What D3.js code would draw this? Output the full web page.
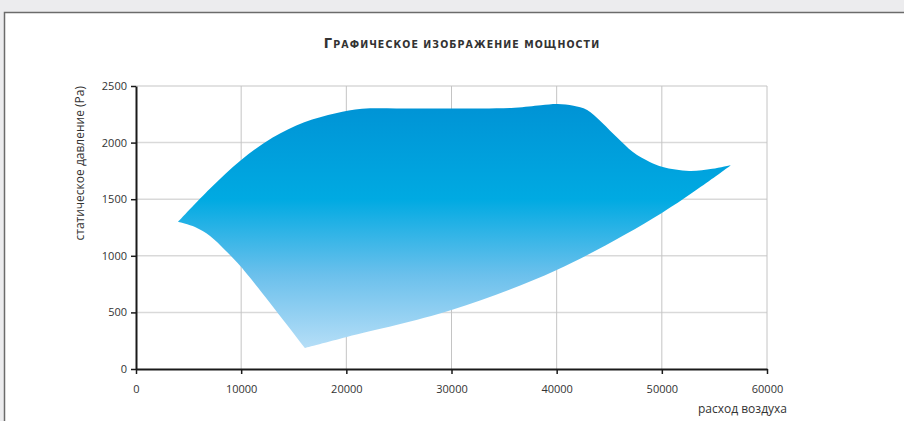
<!DOCTYPE html>
<html>
<head>
<meta charset="utf-8">
<script src="https://cdn.jsdelivr.net/npm/d3@7"></script>
<style>
  body { margin: 0; background: #ececee; }
  svg { display: block; }
</style>
</head>
<body>
<div id="chart"></div>
<script>
// tick values
var xTicks = [0, 10000, 20000, 30000, 40000, 50000, 60000];
var yTicks = [0, 500, 1000, 1500, 2000, 2500];

// upper boundary of the working area (left to right)
var upperFlow = [4000, 7000, 10000, 13000, 16000, 19000, 21500, 25000, 30000, 36000, 38500, 40100, 41600, 42900, 45700, 47250, 48850, 50100, 52600, 54800, 56600];
var upperPressure = [1300, 1590, 1846, 2045, 2180, 2260, 2298, 2302, 2302, 2308, 2330, 2340, 2326, 2288, 2050, 1917, 1829, 1784, 1749, 1768, 1802];

// lower boundary, right part (from the right corner down to the bottom corner)
var lowerFlow = [56600, 50000, 40000, 30000, 20050, 16060];
var lowerPressure = [1802, 1378, 875, 521, 283, 186];

// lower boundary, left part (from the bottom corner back to the start)
var leftFlow = [16060, 10000, 8460, 7040, 5610, 4000];
var leftPressure = [186, 901, 1051, 1175, 1254, 1300];

var W = 904, H = 421;
var margin = {top: 86, left: 136, right: 137, bottom: 52};
var width = W - margin.left - margin.right,
    height = H - margin.top - margin.bottom;

var svg = d3.select("#chart").append("svg")
    .attr("width", W)
    .attr("height", H);

// white panel
svg.append("rect")
    .attr("x", 4.5).attr("y", 12.5)
    .attr("width", W + 10).attr("height", H + 10)
    .attr("fill", "#fff")
    .attr("stroke", "#6b6b6b")
    .attr("stroke-width", 1.5);

var x = d3.scaleLinear().domain([0, 60000]).range([margin.left, margin.left + width]);
var y = d3.scaleLinear().domain([0, 2500]).range([margin.top + height, margin.top]);

// gradient
var defs = svg.append("defs");
var grad = defs.append("linearGradient")
    .attr("id", "fill")
    .attr("gradientUnits", "userSpaceOnUse")
    .attr("x1", 0).attr("x2", 0)
    .attr("y1", y(2340)).attr("y2", y(186));
grad.append("stop").attr("offset", "0%").attr("stop-color", "#0093d5");
grad.append("stop").attr("offset", "39%").attr("stop-color", "#00aae2");
grad.append("stop").attr("offset", "70%").attr("stop-color", "#6bc0ec");
grad.append("stop").attr("offset", "100%").attr("stop-color", "#b5def7");

// grid
svg.append("g").selectAll("line")
    .data(yTicks.slice(1))
    .enter().append("line")
    .attr("x1", x(0)).attr("x2", x(60000))
    .attr("y1", function(d) { return y(d); })
    .attr("y2", function(d) { return y(d); })
    .attr("stroke", "#d9d9d9")
    .attr("stroke-width", 1.5);

svg.append("g").selectAll("line")
    .data(xTicks.slice(1))
    .enter().append("line")
    .attr("x1", function(d) { return x(d); })
    .attr("x2", function(d) { return x(d); })
    .attr("y1", y(0)).attr("y2", y(2500))
    .attr("stroke", "#c4c4c4")
    .attr("stroke-width", 1);

// shape
function pts(a, b) { return a.map(function(v, i) { return [v, b[i]]; }); }
var line = d3.line()
    .x(function(d) { return x(d[0]); })
    .y(function(d) { return y(d[1]); })
    .curve(d3.curveCatmullRom.alpha(0.5));

var p1 = line(pts(upperFlow, upperPressure));
var p2 = line(pts(lowerFlow, lowerPressure)).replace(/^M/, "L");
var p3 = line(pts(leftFlow, leftPressure)).replace(/^M/, "L");

svg.append("path")
    .attr("d", p1 + p2 + p3 + "Z")
    .attr("fill", "url(#fill)");

// axes
var yAxis = svg.append("g")
    .attr("transform", "translate(" + margin.left + ",0)")
    .call(d3.axisLeft(y).tickValues(yTicks).tickFormat(d3.format("d")).tickSize(5).tickSizeOuter(0).tickPadding(4));
var xAxis = svg.append("g")
    .attr("transform", "translate(0," + (margin.top + height) + ")")
    .call(d3.axisBottom(x).tickValues(xTicks).tickFormat(d3.format("d")).tickSize(5).tickSizeOuter(0).tickPadding(11));

[yAxis, xAxis].forEach(function(g) {
    g.select(".domain").attr("stroke", "#1a1a1a").attr("stroke-width", 2);
    g.selectAll(".tick line").attr("stroke", "#1a1a1a").attr("stroke-width", 1.5);
    g.selectAll("text")
        .attr("fill", "#333")
        .style("font-family", "'Open Sans', 'Noto Sans', sans-serif")
        .style("font-size", "11px");
});

// axis titles
svg.append("text")
    .attr("transform", "translate(84," + y(2500) + ") rotate(-90)")
    .attr("text-anchor", "end")
    .attr("fill", "#333")
    .style("font-family", "'Open Sans', 'Noto Sans', sans-serif")
    .style("font-size", "12px")
    .text("статическое давление (Pa)");

svg.append("text")
    .attr("x", 787).attr("y", 413)
    .attr("text-anchor", "end")
    .attr("fill", "#333")
    .style("font-family", "'Open Sans', 'Noto Sans', sans-serif")
    .style("font-size", "12px")
    .text("расход воздуха");

// title in small caps
var title = svg.append("text")
    .attr("x", 462).attr("y", 48)
    .attr("text-anchor", "middle")
    .attr("fill", "#333")
    .style("font-family", "'DejaVu Sans Condensed', 'Liberation Sans Narrow', sans-serif")
    .style("font-weight", "bold")
    .style("letter-spacing", "1.1px");
title.append("tspan").style("font-size", "14.5px").text("Г");
title.append("tspan").style("font-size", "10.5px").text("РАФИЧЕСКОЕ ИЗОБРАЖЕНИЕ МОЩНОСТИ");
</script>
</body>
</html>
